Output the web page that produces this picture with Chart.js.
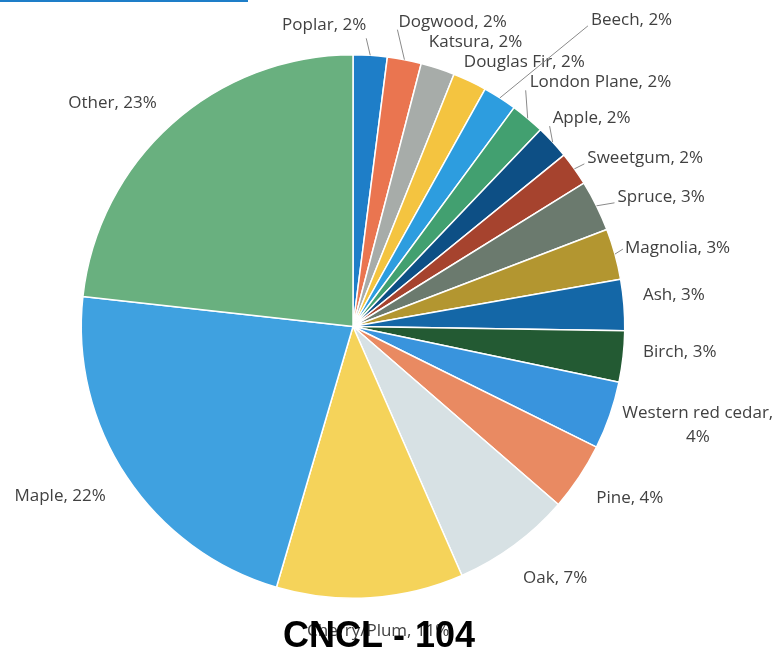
<!DOCTYPE html>
<html>
<head>
<meta charset="utf-8">
<script src="https://cdn.jsdelivr.net/npm/chart.js@4/dist/chart.umd.min.js"></script>
<style>
  html, body { margin: 0; padding: 0; background: #fff; }
  #wrap { width: 775px; height: 649px; position: relative; }
</style>
</head>
<body>
<div id="wrap"><canvas id="treeChart"></canvas></div>
<script>
// parts des essences d'arbres - tour du camembert dans le sens horaire depuis le haut
const species = ['Poplar', 'Dogwood', 'Katsura', 'Douglas Fir', 'Beech', 'London Plane', 'Apple',
    'Sweetgum', 'Spruce', 'Magnolia', 'Ash', 'Birch', 'Western red cedar', 'Pine', 'Oak',
    'Cherry/Plum', 'Maple', 'Other'];
const shares = [2, 2, 2, 2, 2, 2, 2, 2, 3, 3, 3, 3, 4, 4, 7, 11, 22, 23];
const sliceColors = ['#1e7ec8', '#ea7550', '#a7aca9', '#f4c440', '#2d9ddf', '#42a070', '#0d4f85',
    '#a6432e', '#6b7a6e', '#b39630', '#1467a7', '#235a33', '#3994dd', '#e98a62', '#d7e1e4',
    '#f5d35a', '#3fa1e0', '#69b07f'];

// placement des étiquettes : décalage depuis le bord de la part, alignement, trait de rappel
const labelLayout = [
    { dx: -4, dy: -30, align: 'right', line: [-4, -17] },
    { dx: -6, dy: -38, align: 'left', line: [-7, -30] },
    { dx: -9, dy: -26, align: 'left' },
    { dx: -6, dy: -19, align: 'left' },
    { dx: 91, dy: -78, align: 'left', line: [88, -72] },
    { dx: 2, dy: -36, align: 'left', line: [-2, -28] },
    { dx: 0, dy: -24, align: 'left', line: [-3, -16] },
    { dx: 13, dy: -11, align: 'left', line: [10, -5] },
    { dx: 21, dy: -9, align: 'left', line: [18, -3] },
    { dx: 10, dy: -6, align: 'left', line: [8, -5] },
    { dx: 19, dy: -10, align: 'left' },
    { dx: 20, dy: -4, align: 'left' },
    { dx: 88, dy: -2, align: 'center', wrap: true },
    { dx: 17, dy: 21, align: 'left' },
    { dx: 9, dy: 33, align: 'left' },
    { dx: 8, dy: 33, align: 'center' },
    { dx: -21, dy: 19, align: 'right' },
    { dx: -15, dy: -21, align: 'right' }
];

const sliceLabels = {
    id: 'sliceLabels',
    afterDraw(chart) {
        const ctx = chart.ctx;
        const arcs = chart.getDatasetMeta(0).data;
        ctx.save();
        // bandeau bleu en haut à gauche
        ctx.fillStyle = '#1e7ec8';
        ctx.fillRect(0, 0, 248, 2);

        ctx.font = '17px "Open Sans"';
        ctx.fillStyle = '#414141';
        ctx.strokeStyle = '#8a8a8a';
        ctx.lineWidth = 1;
        ctx.textBaseline = 'middle';
        arcs.forEach((arc, i) => {
            const mid = (arc.startAngle + arc.endAngle) / 2;
            const ox = arc.x + Math.cos(mid) * arc.outerRadius;
            const oy = arc.y + Math.sin(mid) * arc.outerRadius;
            const lay = labelLayout[i];
            if (lay.line) {
                ctx.beginPath();
                ctx.moveTo(ox, oy);
                ctx.lineTo(ox + lay.line[0], oy + lay.line[1]);
                ctx.stroke();
            }
            ctx.textAlign = lay.align;
            const txt = species[i] + ', ' + shares[i] + '%';
            if (lay.wrap) {
                ctx.fillText(species[i] + ',', ox + lay.dx, oy + lay.dy);
                ctx.fillText(shares[i] + '%', ox + lay.dx, oy + lay.dy + 24);
            } else {
                ctx.fillText(txt, ox + lay.dx, oy + lay.dy);
            }
        });

        ctx.font = 'bold 36px "Liberation Sans"';
        ctx.fillStyle = '#000';
        ctx.textAlign = 'center';
        ctx.textBaseline = 'alphabetic';
        ctx.fillText('CNCL - 104', 379, 647);
        ctx.restore();
    }
};

document.addEventListener('DOMContentLoaded', function() {
    const ctx = document.getElementById('treeChart').getContext('2d');
    new Chart(ctx, {
        type: 'pie',
        data: {
            labels: species,
            datasets: [{
                data: shares,
                backgroundColor: sliceColors,
                borderColor: '#ffffff',
                borderWidth: 1.5
            }]
        },
        options: {
            responsive: true,
            maintainAspectRatio: false,
            animation: false,
            layout: { padding: { left: 80, right: 149, top: 54, bottom: 50 } },
            plugins: {
                legend: { display: false },
                tooltip: { enabled: false }
            }
        },
        plugins: [sliceLabels]
    });
});
</script>
</body>
</html>
